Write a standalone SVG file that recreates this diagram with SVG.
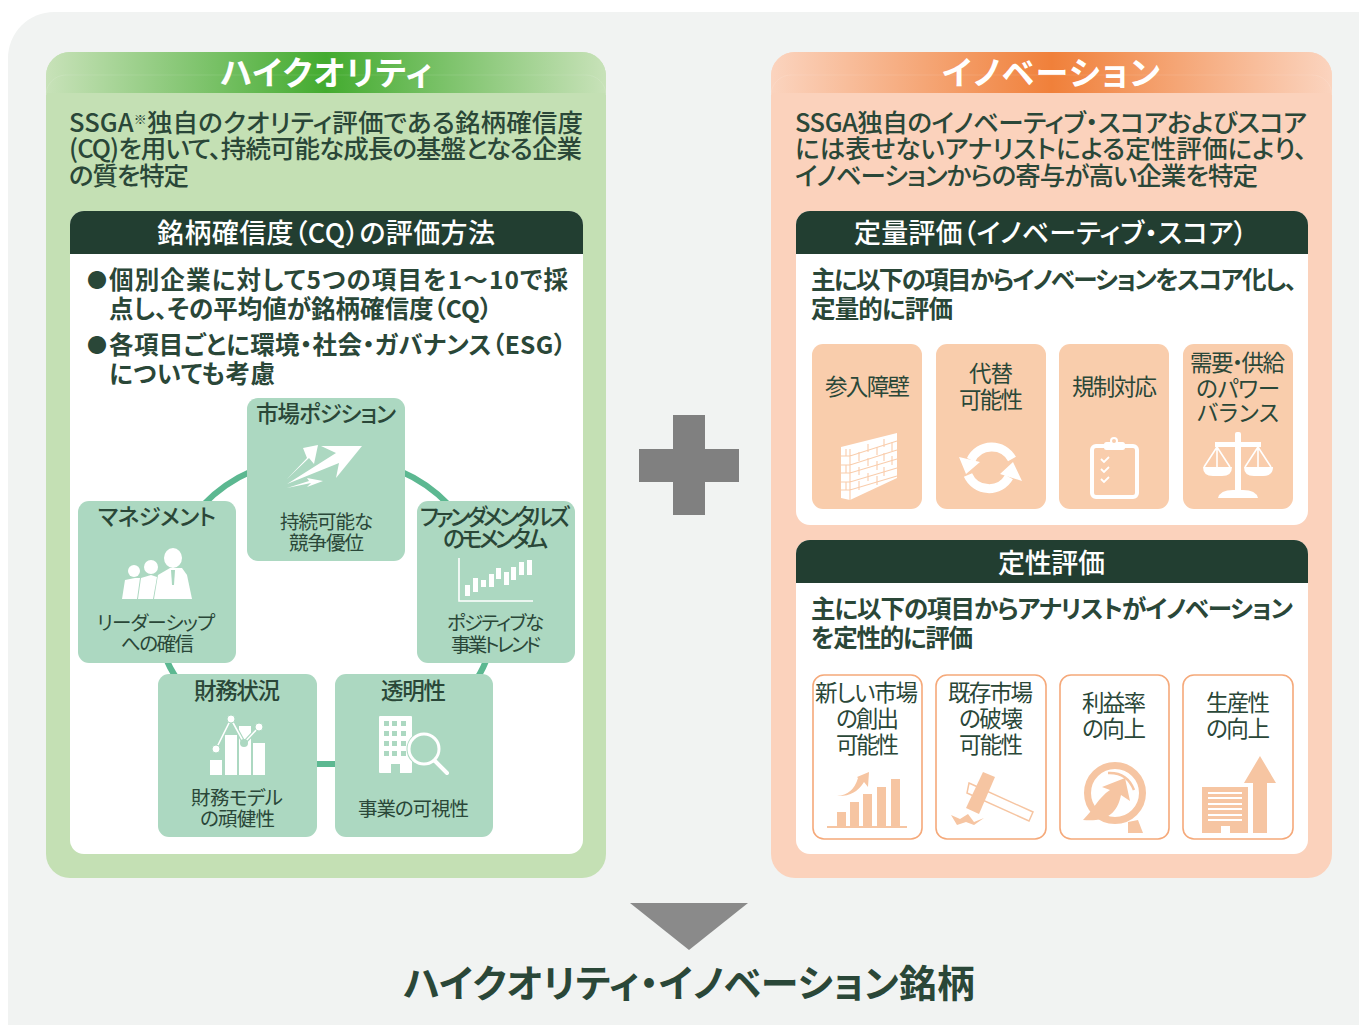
<svg xmlns="http://www.w3.org/2000/svg" width="1359" height="1025" viewBox="0 0 1359 1025">
<style>
text{font-family:"Noto Sans CJK JP","Noto Sans",sans-serif;fill:#2a4738;font-feature-settings:"palt"}
.lead{font-size:25.5px;font-weight:500}.hd{font-size:27px;fill:#fff;font-weight:500}.tab{font-size:33px;font-weight:700;fill:#fff}
.body{font-size:24.5px;font-weight:700}.bl{font-size:20px;font-weight:700}.t1{font-size:22.5px;font-weight:500}.t2{font-size:19.5px}.t3{font-size:22.5px}
.dark{fill:#223e31}.white{fill:#fff}.gt{fill:#acd8c1}.ot{fill:#f9cdac}.ol{fill:#fff;stroke:#f5a97a;stroke-width:1.6}
.ic{fill:#fff}.oc{fill:#f6c5a2}.tl{fill:#acd8c1}.pl{fill:#f9cdac}
.cn{fill:none;stroke:#5cb891;stroke-width:6}
</style>
<defs>
<linearGradient id="gg" x1="0" x2="1" y1="0" y2="0"><stop offset="0" stop-color="#c8e2b9"/><stop offset=".5" stop-color="#43ab2f"/><stop offset="1" stop-color="#c8e2b9"/></linearGradient>
<linearGradient id="og" x1="0" x2="1" y1="0" y2="0"><stop offset="0" stop-color="#fbd4bf"/><stop offset=".5" stop-color="#f0803a"/><stop offset="1" stop-color="#fbd4bf"/></linearGradient>
</defs>
<rect x="8" y="12" width="1400" height="1060" rx="46" fill="#f1f3f2"/>

<g id="panel-quality">
<rect x="46" y="52" width="560" height="826" rx="24" fill="#c4e0b4"/>
<path d="M46,93V76a24,24 0 0 1 24,-24H582a24,24 0 0 1 24,24V93Z" fill="url(#gg)"/>
<path d="M46,93V95a20,20 0 0 1 20,-20H586a20,20 0 0 1 20,20V93" fill="none" stroke="#fff" stroke-opacity=".1"/>
<text class="tab" x="220" y="85" textLength="212">ハイクオリティ</text>
<text class="lead" x="69" y="132" textLength="514">SSGA<tspan font-size="13" dy="-8">※</tspan><tspan dy="8">独自のクオリティ評価である銘柄確信度</tspan></text>
<text class="lead" x="69" y="158" textLength="513">(CQ)を用いて、持続可能な成長の基盤となる企業</text>
<text class="lead" x="69" y="185" textLength="120">の質を特定</text>
<rect x="70" y="211" width="513" height="643" rx="14" class="white"/>
<path d="M70,254V225a14,14 0 0 1 14,-14H569a14,14 0 0 1 14,14V254Z" class="dark"/>
<text class="hd" x="157" y="243" textLength="338">銘柄確信度（CQ）の評価方法</text>
<text class="bl" x="87" y="288">●</text>
<text class="body" x="109" y="289" textLength="459">個別企業に対して5つの項目を1～10で採</text>
<text class="body" x="109" y="318" textLength="383">点し、その平均値が銘柄確信度（CQ）</text>
<text class="bl" x="87" y="353">●</text>
<text class="body" x="109" y="354" textLength="457">各項目ごとに環境・社会・ガバナンス（ESG）</text>
<text class="body" x="109" y="383" textLength="166">についても考慮</text>
</g>

<g id="connectors">
<path class="cn" d="M252,471Q224,483 203,505"/>
<path class="cn" d="M400,471Q428,483 449,505"/>
<path class="cn" d="M488,655Q484,668 476,680"/>
<path class="cn" d="M165,655Q169,668 178,680"/>
<path class="cn" d="M312,764H340"/>
</g>

<g id="node-market">
<rect x="247" y="398" width="158" height="163" rx="11" class="gt"/>
<text class="t1" x="256" y="422" textLength="140">市場ポジション</text>
<path class="ic" d="M287,484L339,463L336,478L362,446L321,446L336,453Z"/>
<path class="ic" d="M287,479L307,458L303,448L318,445L314,464L309,458Z"/>
<path class="ic" d="M287,488L311,483L307,487L323,481L307,478L309,481Z"/>
<text class="t2" x="280" y="529" textLength="93">持続可能な</text>
<text class="t2" x="289" y="550" textLength="75">競争優位</text>
</g>

<g id="node-fundamentals">
<rect x="417" y="501" width="158" height="162" rx="11" class="gt"/>
<text class="t1" x="420" y="525" textLength="150">ファンダメンタルズ</text>
<text class="t1" x="443" y="547" textLength="105">のモメンタム</text>
<path d="M459,558V601H533" fill="none" stroke="#fff" stroke-width="1.6"/>
<g class="ic"><rect x="465" y="585" width="5" height="11"/><rect x="473" y="578" width="5" height="14"/><rect x="481" y="580" width="5" height="7"/><rect x="489" y="574" width="5" height="13"/><rect x="496" y="568" width="5" height="11"/><rect x="504" y="572" width="5" height="13"/><rect x="511" y="567" width="5" height="13"/><rect x="519" y="562" width="5" height="13"/><rect x="527" y="560" width="5" height="15"/></g>
<text class="t2" x="447" y="630" textLength="97">ポジティブな</text>
<text class="t2" x="451" y="652" textLength="90">事業トレンド</text>
</g>

<g id="node-transparency">
<rect x="335" y="674" width="158" height="163" rx="11" class="gt"/>
<text class="t1" x="381" y="699" textLength="65">透明性</text>
<rect x="379" y="716" width="33" height="57" rx="1" class="ic"/>
<g class="tl"><rect x="384" y="721" width="5" height="5"/><rect x="392" y="721" width="5" height="5"/><rect x="401" y="721" width="5" height="5"/><rect x="384" y="731" width="5" height="5"/><rect x="392" y="731" width="5" height="5"/><rect x="401" y="731" width="5" height="5"/><rect x="384" y="741" width="5" height="5"/><rect x="392" y="741" width="5" height="5"/><rect x="401" y="741" width="5" height="5"/><rect x="384" y="751" width="5" height="5"/><rect x="392" y="751" width="5" height="5"/><rect x="401" y="751" width="5" height="5"/><rect x="391" y="764" width="9" height="9"/></g>
<circle cx="424" cy="749" r="16" fill="#acd8c1" stroke="#acd8c1" stroke-width="3"/>
<circle cx="424" cy="749" r="15" fill="none" stroke="#fff" stroke-width="3"/>
<path d="M435,761L447,773" stroke="#fff" stroke-width="4" stroke-linecap="round"/>
<text class="t2" x="358" y="816" textLength="111">事業の可視性</text>
</g>

<g id="node-financial">
<rect x="158" y="674" width="159" height="163" rx="11" class="gt"/>
<text class="t1" x="194" y="699" textLength="86">財務状況</text>
<g class="ic"><rect x="210" y="760" width="12" height="15"/><rect x="225" y="735" width="12" height="40"/><rect x="239" y="726" width="12" height="49"/><rect x="253" y="743" width="12" height="32"/></g>
<path d="M216,749L231,719L244,743L259,727" fill="none" stroke="#acd8c1" stroke-width="4"/>
<path d="M216,749L231,719L244,743L259,727" fill="none" stroke="#fff" stroke-width="1.6"/>
<g class="ic" stroke="#acd8c1"><circle cx="216" cy="749" r="4"/><circle cx="231" cy="719" r="4"/><circle cx="259" cy="727" r="4"/></g>
<circle cx="244" cy="743" r="4" fill="#acd8c1"/>
<text class="t2" x="191" y="805" textLength="92">財務モデル</text>
<text class="t2" x="200" y="826" textLength="75">の頑健性</text>
</g>

<g id="node-management">
<rect x="78" y="501" width="158" height="162" rx="11" class="gt"/>
<text class="t1" x="98" y="525" textLength="118">マネジメント</text>
<g class="ic">
<ellipse cx="173" cy="558" rx="9" ry="10"/>
<path d="M154,599L158,575L170,568L182,568L187,575L192,599Z"/>
<circle cx="151" cy="567" r="7"/>
<path d="M138,599L141,578L151,575L157,577L153,599Z"/>
<circle cx="134" cy="571" r="6"/>
<path d="M122,599L125,580L135,578L140,578L137,599Z"/>
</g>
<path d="M171,570L175,570L174,585L172,585Z" fill="#acd8c1"/>
<text class="t2" x="97" y="630" textLength="118">リーダーシップ</text>
<text class="t2" x="121" y="651" textLength="73">への確信</text>
</g>

<g id="plus"><path d="M673,415H705V449H739V482H705V515H673V482H639V449H673Z" fill="#808080"/></g>

<g id="panel-innovation">
<rect x="771" y="52" width="561" height="826" rx="24" fill="#fbd2bc"/>
<path d="M771,93V76a24,24 0 0 1 24,-24H1308a24,24 0 0 1 24,24V93Z" fill="url(#og)"/>
<path d="M771,93V95a20,20 0 0 1 20,-20H1312a20,20 0 0 1 20,20V93" fill="none" stroke="#fff" stroke-opacity=".1"/>
<text class="tab" x="942" y="85" textLength="218">イノベーション</text>
<text class="lead" x="795" y="132" textLength="512">SSGA独自のイノベーティブ・スコアおよびスコア</text>
<text class="lead" x="795" y="158" textLength="512">には表せないアナリストによる定性評価により、</text>
<text class="lead" x="795" y="185" textLength="463">イノベーションからの寄与が高い企業を特定</text>
</g>

<g id="box-quantitative">
<rect x="796" y="211" width="512" height="314" rx="14" class="white"/>
<path d="M796,254V225a14,14 0 0 1 14,-14H1294a14,14 0 0 1 14,14V254Z" class="dark"/>
<text class="hd" x="854" y="243" textLength="393">定量評価（イノベーティブ・スコア）</text>
<text class="body" x="811" y="289" textLength="486">主に以下の項目からイノベーションをスコア化し、</text>
<text class="body" x="811" y="318" textLength="142">定量的に評価</text>
</g>

<g id="node-barrier">
<rect x="812" y="344" width="110" height="165" rx="11" class="ot"/>
<text class="t3" x="825" y="395" textLength="85">参入障壁</text>
<path class="ic" d="M841,447L897,433V478L850,500L841,498Z"/>
<g fill="none" stroke="#f9cdac" stroke-width="1.1"><path d="M850,449V500M841,456H850L897,441M841,465H850L897,450M841,473H850L897,459M841,482H850L897,468M841,490H850L897,476"/><path d="M868,444V452M884,439V447M859,452V461M877,447V455M892,442V451M868,458V466M884,453V461M859,467V475M877,461V470M892,456V465M868,473V481M884,467V476M859,481V490M877,476V485M846,449V456M846,465V473M846,482V490"/></g>
</g>
<g id="node-substitute">
<rect x="936" y="344" width="110" height="165" rx="11" class="ot"/>
<text class="t3" x="969" y="382" textLength="44">代替</text>
<text class="t3" x="959" y="408" textLength="64">可能性</text>
<path d="M971,460A23,23 0 0 1 1012,459M1009,477A23,23 0 0 1 968,475" fill="none" stroke="#fff" stroke-width="9"/>
<path class="ic" d="M959,457L980,462L966,474ZM1022,481L1000,474L1013,462Z"/>
</g>
<g id="node-regulation">
<rect x="1059" y="344" width="110" height="165" rx="11" class="ot"/>
<text class="t3" x="1072" y="395" textLength="85">規制対応</text>
<rect x="1092" y="446" width="45" height="51" rx="4" fill="none" stroke="#fff" stroke-width="4"/>
<rect x="1104" y="442" width="21" height="8" rx="2.5" class="ic"/>
<circle cx="1114" cy="441" r="3" fill="#f9cdac" stroke="#fff" stroke-width="2"/>
<path d="M1101,459l3,3l5,-5M1101,469l3,3l5,-5M1101,479l3,3l5,-5" fill="none" stroke="#fff" stroke-width="1.8"/>
</g>
<g id="node-supply">
<rect x="1183" y="344" width="110" height="165" rx="11" class="ot"/>
<text class="t3" x="1190" y="371" textLength="95">需要・供給</text>
<text class="t3" x="1196" y="397" textLength="84">のパワー</text>
<text class="t3" x="1197" y="421" textLength="82">バランス</text>
<g class="ic"><rect x="1235" y="432" width="6" height="60" rx="2"/><rect x="1215" y="442" width="46" height="5"/><path d="M1218,498Q1220,490 1233,490H1243Q1256,490 1258,498Z"/>
<path d="M1203,467H1232Q1232,476 1222,476H1213Q1203,476 1203,467ZM1244,467H1273Q1273,476 1263,476H1254Q1244,476 1244,467Z"/></g>
<path d="M1204,467L1217,447L1230,467M1217,447V467M1245,467L1258,447L1271,467M1258,447V467" fill="none" stroke="#fff" stroke-width="1.6"/>
</g>

<g id="box-qualitative">
<rect x="796" y="540" width="512" height="314" rx="14" class="white"/>
<path d="M796,583V554a14,14 0 0 1 14,-14H1294a14,14 0 0 1 14,14V583Z" class="dark"/>
<text class="hd" x="998" y="573" textLength="107">定性評価</text>
<text class="body" x="811" y="618" textLength="482">主に以下の項目からアナリストがイノベーション</text>
<text class="body" x="811" y="647" textLength="162">を定性的に評価</text>
</g>

<g id="node-newmarket">
<rect x="813" y="675" width="109" height="164" rx="11" class="ol"/>
<text class="t3" x="815" y="701" textLength="103">新しい市場</text>
<text class="t3" x="836" y="727" textLength="63">の創出</text>
<text class="t3" x="836" y="753" textLength="63">可能性</text>
<g class="oc"><rect x="827" y="826" width="80" height="2"/><rect x="837" y="812" width="9" height="14"/><rect x="850" y="802" width="9" height="24"/><rect x="863" y="794" width="9" height="32"/><rect x="877" y="787" width="9" height="39"/><rect x="891" y="779" width="9" height="47"/>
<path d="M837,796Q853,795 858,778L857,777L869,772L868,787L864,782Q855,797 837,796Z"/></g>
</g>
<g id="node-disruption">
<rect x="936" y="675" width="110" height="164" rx="11" class="ol"/>
<text class="t3" x="948" y="701" textLength="85">既存市場</text>
<text class="t3" x="959" y="727" textLength="64">の破壊</text>
<text class="t3" x="959" y="753" textLength="64">可能性</text>
<path d="M969,783L1033,812L1029,821L967,793Z" fill="#fff" stroke="#f6c5a2" stroke-width="1.5"/>
<path class="oc" d="M983,772L995,777L979,814L966,808Z"/>
<path class="oc" d="M951,815L960,819L968,814L974,822L984,818L974,825L966,822L957,825Z"/>
</g>
<g id="node-profit">
<rect x="1060" y="675" width="109" height="164" rx="11" class="ol"/>
<text class="t3" x="1082" y="711" textLength="64">利益率</text>
<text class="t3" x="1082" y="737" textLength="64">の向上</text>
<circle cx="1115" cy="793" r="27.5" fill="none" stroke="#f6c5a2" stroke-width="7"/>
<path class="oc" d="M1128,822L1138,820L1143,833L1128,833Z"/>
<path d="M1108,773Q1127,772 1134,790" fill="none" stroke="#f6c5a2" stroke-width="2.5"/>
<path class="oc" d="M1083,820C1095,808 1098,798 1110,790L1102,787L1125,778L1130,801L1121,795C1117,815 1105,822 1083,820Z"/>
</g>
<g id="node-productivity">
<rect x="1183" y="675" width="110" height="164" rx="11" class="ol"/>
<text class="t3" x="1206" y="711" textLength="64">生産性</text>
<text class="t3" x="1206" y="737" textLength="64">の向上</text>
<path class="oc" d="M1202,787H1248V833H1230V826H1221V833H1202Z"/>
<path d="M1208,793H1242M1208,798H1242M1208,804H1242M1208,809H1242M1208,815H1242M1208,820H1242" stroke="#fff" stroke-width="2"/>
<path class="oc" d="M1260,756L1276,783H1267V833H1253V783H1244Z"/>
</g>

<g id="result">
<path d="M630,903H748L689,950Z" fill="#8a8a8a"/>
<text x="403" y="997" font-size="38" font-weight="700" textLength="572">ハイクオリティ・イノベーション銘柄</text>
</g>
</svg>
